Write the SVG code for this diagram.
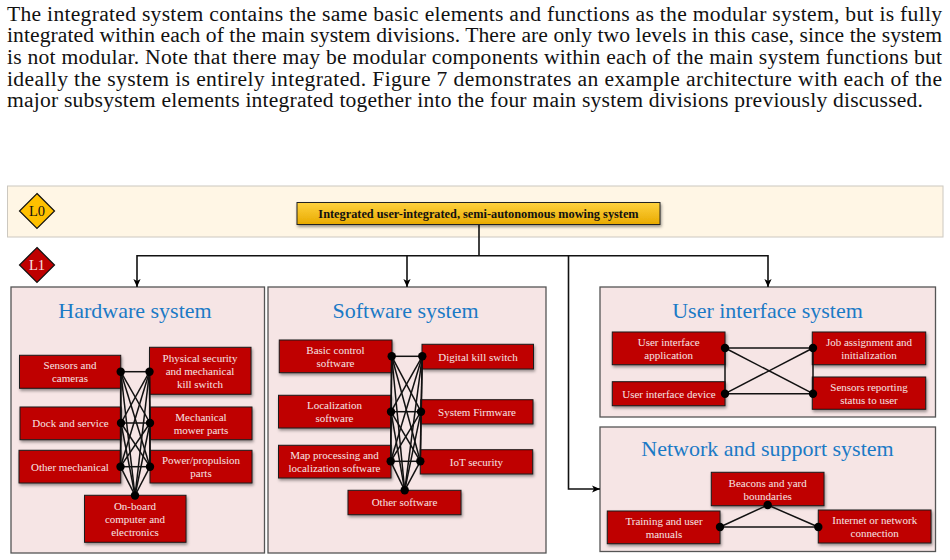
<svg xmlns="http://www.w3.org/2000/svg" width="950" height="560" viewBox="0 0 950 560">
<style>
text{font-family:"Liberation Serif","Times New Roman",serif}
.body{font-size:21.6px;fill:#111}
.panel{fill:#f6e5e5;stroke:#555;stroke-width:1.3}
.n{fill:#bf0000;stroke:#1a1a1a;stroke-width:1;filter:url(#sh)}
.t{font-size:11px;fill:#f6e4e4;text-anchor:middle}
.title{font-size:22px;fill:#1b7ac6;text-anchor:middle}
.mesh line{stroke:#111;stroke-width:1.5}
.mesh circle{fill:#000}
.tree path{fill:none;stroke:#111;stroke-width:1.6}
</style>
<defs>
<linearGradient id="gold" x1="0" y1="0" x2="0" y2="1"><stop offset="0" stop-color="#ffd23f"/><stop offset="1" stop-color="#e8aa00"/></linearGradient>
<filter id="sh" x="-10%" y="-20%" width="120%" height="150%"><feDropShadow dx="1" dy="2" stdDeviation="1.5" flood-color="#000" flood-opacity="0.4"/></filter>
<marker id="ah" viewBox="0 0 10 10" refX="10" refY="5" markerWidth="8" markerHeight="8" markerUnits="userSpaceOnUse" orient="auto"><path d="M0,0.5L10,5L0,9.5L2.5,5Z" fill="#000"/></marker>
</defs>
<rect width="950" height="560" fill="#fff"/>
<g id="paragraph">
<text class="body" x="7" y="20.5" textLength="935" lengthAdjust="spacing">The integrated system contains the same basic elements and functions as the modular system, but is fully</text>
<text class="body" x="7" y="42.2" textLength="935" lengthAdjust="spacing">integrated within each of the main system divisions. There are only two levels in this case, since the system</text>
<text class="body" x="7" y="63.9" textLength="935" lengthAdjust="spacing">is not modular. Note that there may be modular components within each of the main system functions but</text>
<text class="body" x="7" y="85.6" textLength="935" lengthAdjust="spacing">ideally the system is entirely integrated. Figure 7 demonstrates an example architecture with each of the</text>
<text class="body" x="7" y="107.3" textLength="916" lengthAdjust="spacing">major subsystem elements integrated together into the four main system divisions previously discussed.</text>
</g>
<rect id="level0-band" x="7.5" y="186" width="935.5" height="51" fill="#fff6e5" stroke="#ccc8c0" stroke-width="1"/>
<g id="L0"><path d="M37,193.5L54.5,211L37,228.5L19.5,211Z" fill="#ffc000" stroke="#111" stroke-width="1.2"/><text x="37" y="216" font-size="14.5" text-anchor="middle" fill="#111">L0</text></g>
<g id="L1"><path d="M37,247.5L54.5,265L37,282.5L19.5,265Z" fill="#bf0000" stroke="#111" stroke-width="1.2"/><text x="37" y="270" font-size="14.5" text-anchor="middle" fill="#f6e4e4">L1</text></g>
<g id="root"><rect x="297" y="202.5" width="363" height="22" fill="url(#gold)" stroke="#222" stroke-width="1" filter="url(#sh)"/><text x="478.5" y="217.5" font-size="12.3" font-weight="bold" text-anchor="middle" fill="#111">Integrated user-integrated, semi-autonomous mowing system</text></g>
<g id="panel-hardware"><rect class="panel" x="11" y="287" width="253.5" height="266"/><text class="title" x="135" y="318">Hardware system</text></g>
<g id="panel-software"><rect class="panel" x="268" y="287" width="278" height="266"/><text class="title" x="405.5" y="318">Software system</text></g>
<g id="panel-ui"><rect class="panel" x="600" y="287" width="335.5" height="130"/><text class="title" x="767.5" y="318">User interface system</text></g>
<g id="panel-network"><rect class="panel" x="600" y="427" width="335.5" height="124.5"/><text class="title" x="767.5" y="456">Network and support system</text></g>

<g id="n-sensors"><rect class="n" x="19.5" y="355.3" width="101.2" height="33"/><text class="t" x="70" y="369">Sensors and</text><text class="t" x="70" y="382">cameras</text></g>
<g id="n-physical"><rect class="n" x="149.5" y="347.3" width="101.5" height="47"/><text class="t" x="200" y="361.7">Physical security</text><text class="t" x="200" y="374.7">and mechanical</text><text class="t" x="200" y="387.7">kill switch</text></g>
<g id="n-dock"><rect class="n" x="20" y="407" width="101" height="32.7"/><text class="t" x="70.5" y="427">Dock and service</text></g>
<g id="n-mower"><rect class="n" x="150" y="407" width="102" height="32.7"/><text class="t" x="201" y="421">Mechanical</text><text class="t" x="201" y="434">mower parts</text></g>
<g id="n-othermech"><rect class="n" x="19" y="450.3" width="101.7" height="32.7"/><text class="t" x="70" y="471">Other mechanical</text></g>
<g id="n-power"><rect class="n" x="150" y="450.3" width="102" height="32.7"/><text class="t" x="201" y="464">Power/propulsion</text><text class="t" x="201" y="477">parts</text></g>
<g id="n-onboard"><rect class="n" x="84.5" y="495.3" width="101.5" height="47"/><text class="t" x="135" y="509.5">On-board</text><text class="t" x="135" y="522.5">computer and</text><text class="t" x="135" y="535.5">electronics</text></g>

<g id="n-basic"><rect class="n" x="279.3" y="340" width="112.7" height="32.7"/><text class="t" x="335.5" y="354">Basic control</text><text class="t" x="335.5" y="367">software</text></g>
<g id="n-digital"><rect class="n" x="422" y="344.3" width="111.5" height="24.7"/><text class="t" x="478" y="361">Digital kill switch</text></g>
<g id="n-localization"><rect class="n" x="278.5" y="395.3" width="112.5" height="32.7"/><text class="t" x="334.5" y="409">Localization</text><text class="t" x="334.5" y="422">software</text></g>
<g id="n-firmware"><rect class="n" x="420.7" y="399.7" width="112.3" height="24.3"/><text class="t" x="477" y="416">System Firmware</text></g>
<g id="n-map"><rect class="n" x="278.5" y="445.3" width="112.5" height="32.7"/><text class="t" x="334.5" y="459">Map processing and</text><text class="t" x="334.5" y="472">localization software</text></g>
<g id="n-iot"><rect class="n" x="420.3" y="449.7" width="112.4" height="24.3"/><text class="t" x="476.5" y="466">IoT security</text></g>
<g id="n-othersw"><rect class="n" x="348" y="490.3" width="113" height="24.4"/><text class="t" x="404.5" y="506">Other software</text></g>

<g id="n-uiapp"><rect class="n" x="612.3" y="332" width="112.7" height="32.7"/><text class="t" x="668.7" y="346">User interface</text><text class="t" x="668.7" y="359">application</text></g>
<g id="n-uidevice"><rect class="n" x="612.3" y="381.7" width="112.7" height="24"/><text class="t" x="669" y="398">User interface device</text></g>
<g id="n-job"><rect class="n" x="812.3" y="332" width="113.4" height="32.7"/><text class="t" x="869" y="346">Job assignment and</text><text class="t" x="869" y="359">initialization</text></g>
<g id="n-status"><rect class="n" x="812.3" y="377" width="113.4" height="32.3"/><text class="t" x="869" y="391">Sensors reporting</text><text class="t" x="869" y="404">status to user</text></g>

<g id="n-beacons"><rect class="n" x="711.3" y="472.3" width="112.7" height="33.4"/><text class="t" x="767.7" y="487">Beacons and yard</text><text class="t" x="767.7" y="500">boundaries</text></g>
<g id="n-training"><rect class="n" x="607.3" y="511" width="112.7" height="32.7"/><text class="t" x="664" y="525">Training and user</text><text class="t" x="664" y="538">manuals</text></g>
<g id="n-internet"><rect class="n" x="818.3" y="510" width="112.7" height="33"/><text class="t" x="874.7" y="524">Internet or network</text><text class="t" x="874.7" y="537">connection</text></g>

<g id="connectors">
<g class="tree">
<path d="M479,225V255.7"/>
<path d="M479,255.7H137V287" marker-end="url(#ah)"/>
<path d="M407,255.7V287" marker-end="url(#ah)"/>
<path d="M479,255.7H768V287" marker-end="url(#ah)"/>
<path d="M568.5,255.7V489H600" marker-end="url(#ah)"/>
</g>
<g class="mesh" id="mesh-hardware">
<line x1="120.7" y1="371.7" x2="149.5" y2="371.7"/><line x1="120.7" y1="371.7" x2="121" y2="423"/><line x1="120.7" y1="371.7" x2="150" y2="423"/><line x1="120.7" y1="371.7" x2="120.5" y2="466.7"/><line x1="120.7" y1="371.7" x2="150" y2="466.7"/><line x1="120.7" y1="371.7" x2="135" y2="495.5"/>
<line x1="149.5" y1="371.7" x2="121" y2="423"/><line x1="149.5" y1="371.7" x2="150" y2="423"/><line x1="149.5" y1="371.7" x2="120.5" y2="466.7"/><line x1="149.5" y1="371.7" x2="150" y2="466.7"/><line x1="149.5" y1="371.7" x2="135" y2="495.5"/>
<line x1="121" y1="423" x2="150" y2="423"/><line x1="121" y1="423" x2="120.5" y2="466.7"/><line x1="121" y1="423" x2="150" y2="466.7"/><line x1="121" y1="423" x2="135" y2="495.5"/>
<line x1="150" y1="423" x2="120.5" y2="466.7"/><line x1="150" y1="423" x2="150" y2="466.7"/><line x1="150" y1="423" x2="135" y2="495.5"/>
<line x1="120.5" y1="466.7" x2="150" y2="466.7"/><line x1="120.5" y1="466.7" x2="135" y2="495.5"/><line x1="150" y1="466.7" x2="135" y2="495.5"/>
<circle cx="120.7" cy="371.7" r="4.2"/><circle cx="149.5" cy="371.7" r="4.2"/><circle cx="121" cy="423" r="4.2"/><circle cx="150" cy="423" r="4.2"/><circle cx="120.5" cy="466.7" r="4.2"/><circle cx="150" cy="466.7" r="4.2"/><circle cx="135" cy="495.5" r="4.2"/>
</g>
<g class="mesh" id="mesh-software">
<line x1="391.7" y1="356.3" x2="422.3" y2="356.3"/><line x1="391.7" y1="356.3" x2="391" y2="411.7"/><line x1="391.7" y1="356.3" x2="421" y2="411.7"/><line x1="391.7" y1="356.3" x2="390.7" y2="461.3"/><line x1="391.7" y1="356.3" x2="420.3" y2="461.3"/><line x1="391.7" y1="356.3" x2="404.7" y2="490.3"/>
<line x1="422.3" y1="356.3" x2="391" y2="411.7"/><line x1="422.3" y1="356.3" x2="421" y2="411.7"/><line x1="422.3" y1="356.3" x2="390.7" y2="461.3"/><line x1="422.3" y1="356.3" x2="420.3" y2="461.3"/><line x1="422.3" y1="356.3" x2="404.7" y2="490.3"/>
<line x1="391" y1="411.7" x2="421" y2="411.7"/><line x1="391" y1="411.7" x2="390.7" y2="461.3"/><line x1="391" y1="411.7" x2="420.3" y2="461.3"/><line x1="391" y1="411.7" x2="404.7" y2="490.3"/>
<line x1="421" y1="411.7" x2="390.7" y2="461.3"/><line x1="421" y1="411.7" x2="420.3" y2="461.3"/><line x1="421" y1="411.7" x2="404.7" y2="490.3"/>
<line x1="390.7" y1="461.3" x2="420.3" y2="461.3"/><line x1="390.7" y1="461.3" x2="404.7" y2="490.3"/><line x1="420.3" y1="461.3" x2="404.7" y2="490.3"/>
<circle cx="391.7" cy="356.3" r="4.2"/><circle cx="422.3" cy="356.3" r="4.2"/><circle cx="391" cy="411.7" r="4.2"/><circle cx="421" cy="411.7" r="4.2"/><circle cx="390.7" cy="461.3" r="4.2"/><circle cx="420.3" cy="461.3" r="4.2"/><circle cx="404.7" cy="490.3" r="4.2"/>
</g>
<g class="mesh" id="mesh-ui">
<line x1="725" y1="348" x2="813" y2="348"/><line x1="725" y1="348" x2="725" y2="393.7"/><line x1="725" y1="348" x2="813" y2="393.7"/><line x1="813" y1="348" x2="725" y2="393.7"/><line x1="813" y1="348" x2="813" y2="393.7"/><line x1="725" y1="393.7" x2="813" y2="393.7"/>
<circle cx="725" cy="348" r="4.2"/><circle cx="813" cy="348" r="4.2"/><circle cx="725" cy="393.7" r="4.2"/><circle cx="813" cy="393.7" r="4.2"/>
</g>
<g class="mesh" id="mesh-network">
<line x1="767.7" y1="505" x2="720" y2="527"/><line x1="767.7" y1="505" x2="818.3" y2="527"/><line x1="720" y1="527" x2="818.3" y2="527"/>
<circle cx="767.7" cy="505" r="4.2"/><circle cx="720" cy="527" r="4.2"/><circle cx="818.3" cy="527" r="4.2"/>
</g>
</g>
</svg>
